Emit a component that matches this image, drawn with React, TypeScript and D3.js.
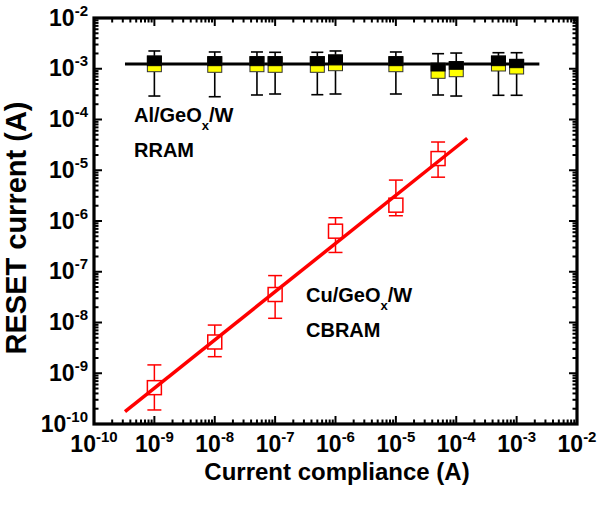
import React from 'react';
import * as d3 from 'd3';

// Axis decades (exponents)
const xTickExps = [-10, -9, -8, -7, -6, -5, -4, -3, -2];
const yTickExps = [-10, -9, -8, -7, -6, -5, -4, -3, -2];

// Al/GeOx/W RRAM (box statistics)
const rramCompliance = [1e-9, 1e-8, 5e-8, 1e-7, 5e-7, 1e-6, 1e-5, 5e-5, 1e-4, 5e-4, 1e-3];
const rramWhiskerHigh = [2.24e-3, 2.14e-3, 2.14e-3, 2.11e-3, 2.11e-3, 2.24e-3, 2.14e-3, 1.98e-3, 2.04e-3, 2.07e-3, 2.07e-3];
const rramBoxHigh = [1.78e-3, 1.73e-3, 1.73e-3, 1.73e-3, 1.73e-3, 1.87e-3, 1.73e-3, 1.28e-3, 1.38e-3, 1.78e-3, 1.53e-3];
const rramMid = [1.15e-3, 1.15e-3, 1.15e-3, 1.15e-3, 1.15e-3, 1.19e-3, 1.15e-3, 9.03e-4, 9.76e-4, 1.15e-3, 1.05e-3];
const rramBoxLow = [8.75e-4, 8.51e-4, 8.75e-4, 8.51e-4, 8.51e-4, 9.16e-4, 8.75e-4, 6.48e-4, 6.97e-4, 9.03e-4, 7.88e-4];
const rramWhiskerLow = [2.9e-4, 2.81e-4, 3.04e-4, 3.18e-4, 3.08e-4, 3.18e-4, 3.18e-4, 3.04e-4, 2.9e-4, 3.0e-4, 3.0e-4];

// Cu/GeOx/W CBRAM
const cbramCompliance = [1e-9, 1e-8, 1e-7, 1e-6, 1e-5, 5e-5];
const cbramReset = [5.2e-10, 4.13e-9, 3.56e-8, 6.3e-7, 2.05e-6, 1.7e-5];
const cbramHigh = [1.46e-9, 8.9e-9, 8.4e-8, 1.16e-6, 6.4e-6, 3.6e-5];
const cbramLow = [1.89e-10, 2.12e-9, 1.21e-8, 2.4e-7, 1.27e-6, 7.3e-6];

// Fit lines
const rramFitX = [3.26e-10, 2.38e-3];
const rramFitY = [1.24e-3, 1.24e-3];
const cbramFitX = [3.26e-10, 1.52e-4];
const cbramFitY = [1.75e-10, 4.27e-5];

const FONT = '"Liberation Sans", Arial, Helvetica, sans-serif';

export default function App() {
  const W = 600, H = 507;
  const left = 94, right = 577, top = 18, bottom = 424;
  const x = d3.scaleLog().domain([1e-10, 1e-2]).range([left, right]);
  const y = d3.scaleLog().domain([1e-10, 1e-2]).range([bottom, top]);

  const majors = xTickExps.map((e) => Math.pow(10, e));
  const minors: number[] = [];
  for (let e = -10; e < -2; e++) {
    for (let m = 2; m <= 9; m++) minors.push(m * Math.pow(10, e));
  }
  const yMajors = yTickExps.map((e) => Math.pow(10, e));

  const line = d3.line<[number, number]>().x((d) => x(d[0])).y((d) => y(d[1]));
  const rramFit = line(rramFitX.map((v, i) => [v, rramFitY[i]] as [number, number]));
  const cbramFit = line(cbramFitX.map((v, i) => [v, cbramFitY[i]] as [number, number]));

  const majLen = 8, minLen = 4.5;
  const bw = 14, cap = 12;

  return (
    <svg width={W} height={H} style={{ position: 'absolute', left: 0, top: 0, background: '#fff' }} fontFamily={FONT}>
      <rect x={0} y={0} width={W} height={H} fill="#fff" />
      {/* ticks */}
      <g stroke="#000" strokeWidth={2}>
        {majors.map((v, i) => (
          <g key={'xm' + i}>
            <line x1={x(v)} x2={x(v)} y1={bottom} y2={bottom - majLen} />
            <line x1={x(v)} x2={x(v)} y1={top} y2={top + majLen} />
          </g>
        ))}
        {minors.map((v, i) => (
          <g key={'xn' + i}>
            <line x1={x(v)} x2={x(v)} y1={bottom} y2={bottom - minLen} />
            <line x1={x(v)} x2={x(v)} y1={top} y2={top + minLen} />
          </g>
        ))}
        {yMajors.map((v, i) => (
          <g key={'ym' + i}>
            <line y1={y(v)} y2={y(v)} x1={left} x2={left + majLen} />
            <line y1={y(v)} y2={y(v)} x1={right} x2={right - majLen} />
          </g>
        ))}
        {minors.map((v, i) => (
          <g key={'yn' + i}>
            <line y1={y(v)} y2={y(v)} x1={left} x2={left + minLen} />
            <line y1={y(v)} y2={y(v)} x1={right} x2={right - minLen} />
          </g>
        ))}
      </g>
      <rect x={left} y={top} width={right - left} height={bottom - top} fill="none" stroke="#000" strokeWidth={3.2} />

      {/* x tick labels */}
      {xTickExps.map((e, i) => (
        <text key={'xl' + i} x={x(Math.pow(10, e))} y={452} textAnchor="middle" fontWeight="bold" fontSize={23} fill="#000">
          10<tspan fontSize={15} dy={-10}>{e}</tspan>
        </text>
      ))}
      {/* y tick labels */}
      {yTickExps.map((e, i) => (
        <text key={'yl' + i} x={88} y={y(Math.pow(10, e)) + 7.5} textAnchor="end" fontWeight="bold" fontSize={23} fill="#000">
          10<tspan fontSize={15} dy={-10}>{e}</tspan>
        </text>
      ))}

      {/* axis titles */}
      <text x={337} y={480} textAnchor="middle" fontWeight="bold" fontSize={24} fill="#000">Current compliance (A)</text>
      <text transform="translate(26,228) rotate(-90)" textAnchor="middle" fontWeight="bold" fontSize={29} fill="#000">RESET current (A)</text>

      {/* RRAM fit */}
      <path d={rramFit || ''} stroke="#000" strokeWidth={3} fill="none" />

      {/* RRAM boxes */}
      {rramCompliance.map((c, i) => {
        const cx = x(c);
        return (
          <g key={'rb' + i}>
            <g stroke="#000" strokeWidth={1.6}>
              <line x1={cx} x2={cx} y1={y(rramWhiskerHigh[i])} y2={y(rramBoxHigh[i])} />
              <line x1={cx} x2={cx} y1={y(rramBoxLow[i])} y2={y(rramWhiskerLow[i])} />
              <line x1={cx - cap / 2} x2={cx + cap / 2} y1={y(rramWhiskerHigh[i])} y2={y(rramWhiskerHigh[i])} />
              <line x1={cx - cap / 2} x2={cx + cap / 2} y1={y(rramWhiskerLow[i])} y2={y(rramWhiskerLow[i])} />
            </g>
            <rect x={cx - bw / 2} y={y(rramBoxHigh[i])} width={bw} height={y(rramBoxLow[i]) - y(rramBoxHigh[i])} fill="#ffff00" stroke="#333" strokeWidth={1} />
            <rect x={cx - bw / 2} y={y(rramBoxHigh[i])} width={bw} height={y(rramMid[i]) - y(rramBoxHigh[i])} fill="#000" stroke="#000" strokeWidth={1} />
          </g>
        );
      })}

      {/* CBRAM fit */}
      <path d={cbramFit || ''} stroke="#ff0000" strokeWidth={3.5} fill="none" />

      {/* CBRAM points */}
      {cbramCompliance.map((c, i) => {
        const cx = x(c);
        const cy = y(cbramReset[i]);
        const yh = y(cbramHigh[i]);
        const yl = y(cbramLow[i]);
        return (
          <g key={'cb' + i} stroke="#ff0000" strokeWidth={1.5} fill="none">
            {yh < cy - bw / 2 && <line x1={cx} x2={cx} y1={yh} y2={cy - bw / 2} />}
            {yl > cy + bw / 2 && <line x1={cx} x2={cx} y1={cy + bw / 2} y2={yl} />}
            <line x1={cx - cap / 2 - 1} x2={cx + cap / 2 + 1} y1={yh} y2={yh} />
            <line x1={cx - cap / 2 - 1} x2={cx + cap / 2 + 1} y1={yl} y2={yl} />
            <rect x={cx - bw / 2} y={cy - bw / 2} width={bw} height={bw} />
          </g>
        );
      })}

      {/* annotations */}
      <text x={134} y={122} fontWeight="bold" fontSize={20} fill="#000">
        Al/GeO<tspan fontSize={13} dy={8}>x</tspan><tspan dy={-8}>/W</tspan>
      </text>
      <text x={134} y={157} fontWeight="bold" fontSize={20} fill="#000">RRAM</text>
      <text x={306} y={302} fontWeight="bold" fontSize={20} fill="#000">
        Cu/GeO<tspan fontSize={13} dy={8}>x</tspan><tspan dy={-8}>/W</tspan>
      </text>
      <text x={306} y={337} fontWeight="bold" fontSize={20} fill="#000">CBRAM</text>
    </svg>
  );
}
